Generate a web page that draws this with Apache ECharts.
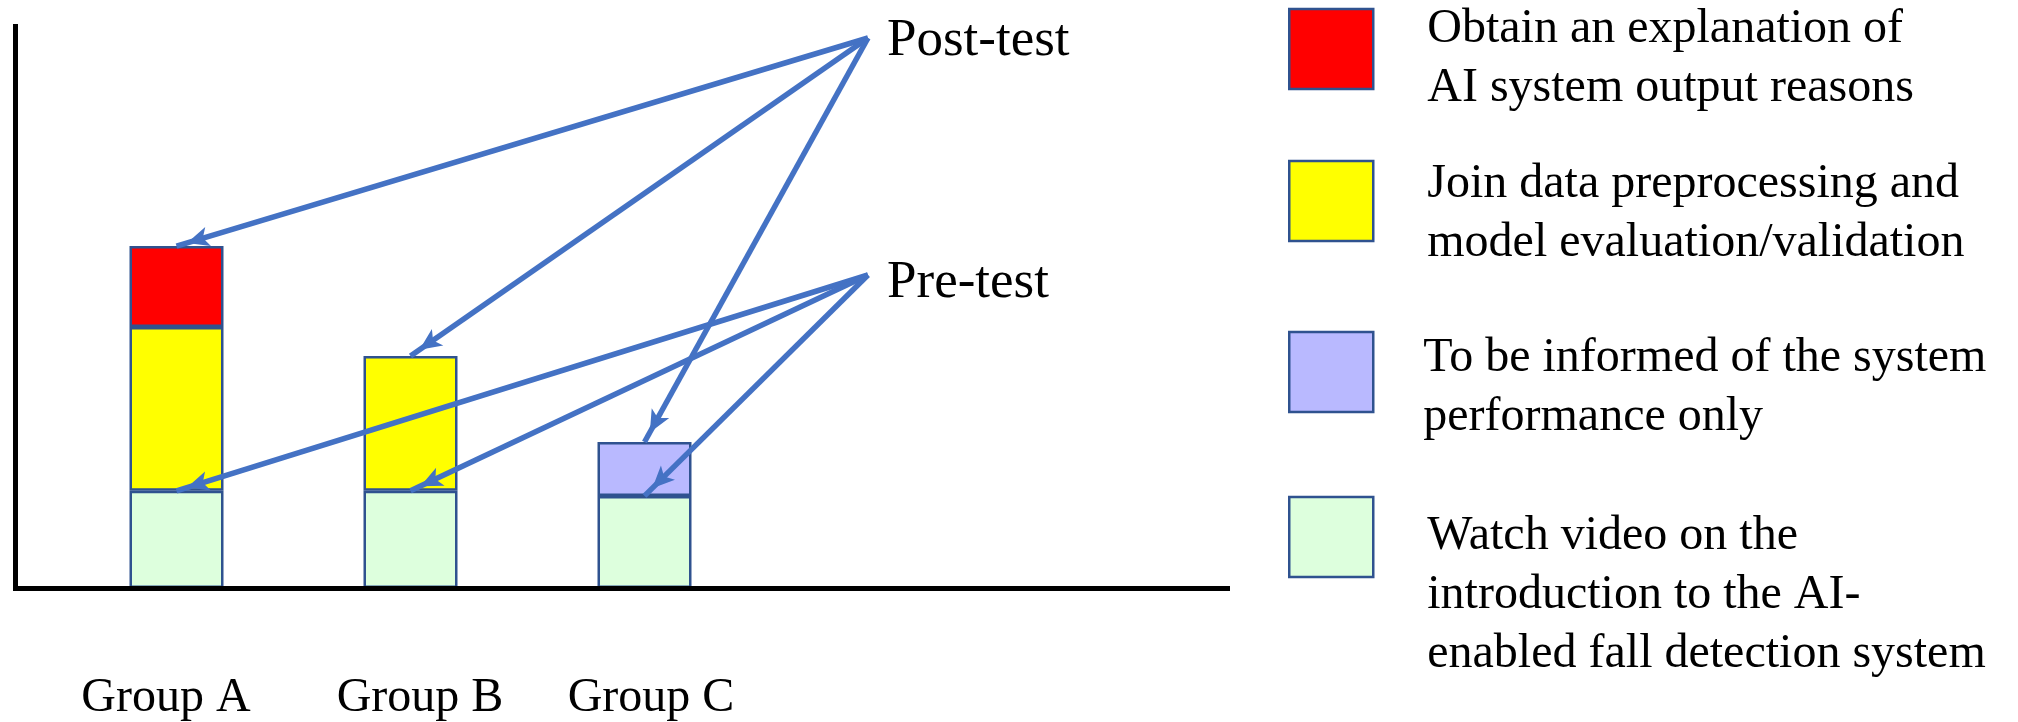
<!DOCTYPE html>
<html>
<head>
<meta charset="utf-8">
<script src="https://cdn.jsdelivr.net/npm/echarts@6/dist/echarts.min.js"></script>
<style>
  html, body { margin: 0; padding: 0; background: #fff; }
  #chart { width: 2018px; height: 722px; }
</style>
</head>
<body>
<div id="chart"></div>
<script>
const categories = ['Group A', 'Group B', 'Group C'];

// stacked segments, bottom to top (arbitrary units, axis 0..100)
const watchVideo = [17.3, 17.3, 16.4];
const joinData = [29.2, 24.0, '-'];
const informed = ['-', '-', 9.6];
const explanation = [14.4, '-', '-'];

const seriesNames = [
  'Watch video on the introduction to the AI-enabled fall detection system',
  'Join data preprocessing and model evaluation/validation',
  'To be informed of the system performance only',
  'Obtain an explanation of AI system output reasons'
];
const seriesColors = ['#DDFFDD', '#FFFF00', '#B9B9FF', '#FF0000'];

// legend order top to bottom, and how the text wraps
const legendOrder = [3, 1, 2, 0];
const legendLines = [
  ['Watch video on the', 'introduction to the AI-', 'enabled fall detection system'],
  ['Join data preprocessing and', 'model evaluation/validation'],
  ['To be informed of the system', 'performance only'],
  ['Obtain an explanation of', 'AI system output reasons']
];

const annotations = ['Post-test', 'Pre-test'];

const FONT = '"Liberation Serif", "Times New Roman", serif';
const BORDER = '#2F528F';
const ARROW = '#4472C4';

const num = v => (typeof v === 'number' ? v : 0);
const totals = categories.map((_, i) =>
  num(watchVideo[i]) + num(joinData[i]) + num(informed[i]) + num(explanation[i]));

const chart = echarts.init(document.getElementById('chart'));

const postAnchor = {x: 868, y: 38};
const preAnchor = {x: 868, y: 275};

const arrows = [];
categories.forEach((_, i) => {
  arrows.push([postAnchor, {coord: [i, totals[i]]}]);
});
categories.forEach((_, i) => {
  arrows.push([preAnchor, {coord: [i, watchVideo[i]]}]);
});

const seriesData = [watchVideo, joinData, informed, explanation];
const series = seriesData.map((d, k) => ({
  name: seriesNames[k],
  type: 'bar',
  xAxisIndex: 1,
  yAxisIndex: 1,
  stack: 'total',
  barWidth: 94,
  data: d,
  itemStyle: {color: seriesColors[k], borderColor: BORDER, borderWidth: 2.5},
  emphasis: {disabled: true},
  silent: true
}));

series[0].markLine = {
  silent: true,
  animation: false,
  symbol: ['none', 'arrow'],
  symbolSize: [15, 22],
  symbolOffset: [0, [0, 11]],
  label: {show: false},
  emphasis: {disabled: true},
  lineStyle: {color: ARROW, width: 5.5, type: 'solid', opacity: 1},
  data: arrows
};

// legend placement: tops and a blank leading line that pushes the text down
const legendTops = [390.5, 129, 297, -20];
const legendGap = [116, 26, 32, 20];
const legendPadLeft = [49, 49, 45, 49];
const legends = legendOrder.map(k => ({
  orient: 'vertical',
  left: 1288,
  top: legendTops[k],
  padding: 0,
  icon: 'rect',
  itemWidth: 84,
  itemHeight: 80,
  selectedMode: false,
  itemStyle: {borderColor: BORDER, borderWidth: 2.5},
  textStyle: {
    fontFamily: FONT, fontSize: 48, lineHeight: 59, color: '#000',
    padding: [0, 0, 0, legendPadLeft[k]],
    rich: {gap: {fontSize: 10, lineHeight: legendGap[k]}}
  },
  formatter: () => '{gap| }\n' + legendLines[k].join('\n'),
  data: [seriesNames[k]]
}));

const labelPad = [[0, 21, 0, 0], [0, 0, 0, 19], [0, 0, 0, 13]];

chart.setOption({
  animation: false,
  backgroundColor: '#fff',
  legend: legends,
  grid: [
    {left: 15.5, top: 26.5, width: 1212, height: 561.5, outerBoundsMode: 'none'},
    {left: 59.5, top: 26.5, width: 702, height: 561.5, outerBoundsMode: 'none'}
  ],
  xAxis: [
    {
      gridIndex: 0, type: 'value', min: 0, max: 1, z: 5,
      axisLine: {show: true, onZero: false, lineStyle: {color: '#000', width: 5, cap: 'square'}},
      axisTick: {show: false}, axisLabel: {show: false}, splitLine: {show: false}
    },
    {
      gridIndex: 1, type: 'category',
      data: categories.map((c, i) => ({value: c, textStyle: {padding: labelPad[i]}})),
      axisLine: {show: false}, axisTick: {show: false}, splitLine: {show: false},
      axisLabel: {margin: 86, fontFamily: FONT, fontSize: 48, color: '#000'}
    }
  ],
  yAxis: [
    {
      gridIndex: 0, type: 'value', min: 0, max: 1, z: 5,
      axisLine: {show: true, onZero: false, lineStyle: {color: '#000', width: 5, cap: 'square'}},
      axisTick: {show: false}, axisLabel: {show: false}, splitLine: {show: false}
    },
    {
      gridIndex: 1, type: 'value', min: 0, max: 100, show: false,
      splitLine: {show: false}
    }
  ],
  graphic: [
    {type: 'text', x: 887, y: 41, silent: true,
      style: {text: annotations[0], font: '53px ' + FONT, fill: '#000', verticalAlign: 'middle'}},
    {type: 'text', x: 887, y: 283.5, silent: true,
      style: {text: annotations[1], font: '53px ' + FONT, fill: '#000', verticalAlign: 'middle'}}
  ],
  series: series
});
</script>
</body>
</html>
